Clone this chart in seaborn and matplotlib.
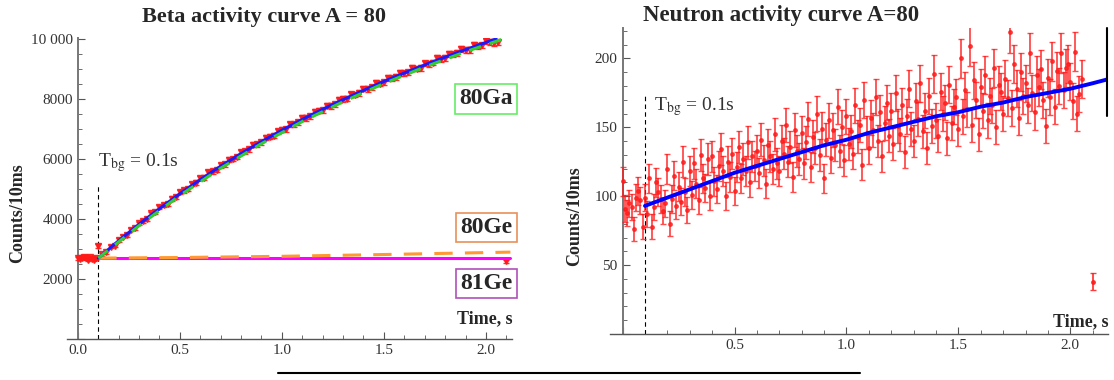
import numpy as np
import pandas as pd
import matplotlib.pyplot as plt
import seaborn as sns
from matplotlib.lines import Line2D
from matplotlib.ticker import MultipleLocator, FuncFormatter

# ---- beta activity data (counts / 10 ms) ----
beta_bg_t = [0.0, 0.01, 0.02, 0.03, 0.04, 0.05, 0.06, 0.07, 0.08, 0.09]
beta_bg = [2700, 2680, 2720, 2750, 2690, 2650, 2730, 2680, 2640, 2700]
beta_jump_t = [0.10, 2.10]
beta_jump = [3100, 2600]
beta_counts = [2830, 2900, 3080, 3120, 3300, 3420, 3480, 3650, 3700, 3860,
               3950, 4010, 4190, 4230, 4400, 4470, 4520, 4690, 4730, 4920,
               4960, 5010, 5180, 5220, 5370, 5390, 5560, 5600, 5650, 5800,
               5830, 5990, 6010, 6080, 6240, 6260, 6330, 6480, 6500, 6570,
               6720, 6750, 6790, 6940, 6990, 7010, 7170, 7170, 7230, 7390,
               7380, 7440, 7590, 7620, 7640, 7790, 7780, 7840, 7980, 8010,
               8020, 8170, 8160, 8210, 8360, 8350, 8400, 8540, 8530, 8570,
               8720, 8700, 8740, 8890, 8870, 8900, 9060, 9030, 9050, 9200,
               9190, 9230, 9370, 9340, 9380, 9520, 9500, 9540, 9670, 9640,
               9660, 9830, 9790, 9800, 9950, 9930, 9870, 9900]
beta_t = np.round(0.12 + 0.02 * np.arange(len(beta_counts)), 2)

# fitted components
fit_t = [0.1, 0.2, 0.3, 0.4, 0.5, 0.6, 0.7, 0.8, 0.9, 1.0, 1.1,
         1.2, 1.3, 1.4, 1.5, 1.6, 1.7, 1.8, 1.9, 2.0, 2.05]
fit_total = [2700, 3280, 3830, 4350, 4850, 5320, 5770, 6190, 6590, 6970, 7330,
             7670, 7990, 8300, 8600, 8880, 9150, 9410, 9660, 9900, 10020]
ga80_t = [0.1, 0.3, 0.5, 0.7, 0.9, 1.1, 1.3, 1.5, 1.7, 1.9, 2.12]
ga80 = [2700, 3780, 4790, 5700, 6520, 7260, 7920, 8530, 9080, 9590, 10100]
ge80_t = [0.1, 0.5, 1.0, 1.5, 2.12]
ge80 = [2700, 2720, 2760, 2820, 2900]
ge81_t = [0.1, 2.12]
ge81 = [2700, 2700]

# ---- neutron activity data ----
neutron_counts = [111, 91, 88, 95, 92, 76, 99, 104, 97, 78,
                  99, 87, 113, 78, 92, 110, 103, 98, 89, 95,
                  120, 80, 98, 115, 93, 107, 96, 125, 103, 90,
                  118, 101, 124, 109, 97, 130, 113, 106, 127, 100,
                  129, 111, 105, 122, 134, 118, 100, 125, 114, 131,
                  104, 121, 136, 113, 127, 118, 139, 110, 129, 122,
                  133, 117, 141, 126, 109, 137, 129, 120, 145, 124,
                  118, 140, 131, 152, 125, 136, 114, 148, 133, 127,
                  146, 124, 139, 156, 121, 143, 135, 160, 130, 149,
                  113, 141, 155, 128, 148, 137, 165, 133, 150, 126,
                  158, 138, 147, 131, 166, 143, 152, 123, 170, 146,
                  135, 157, 148, 172, 140, 161, 129, 153, 168, 144,
                  162, 138, 175, 151, 145, 166, 132, 158, 178, 149,
                  140, 169, 156, 182, 147, 162, 135, 173, 151, 189,
                  155, 144, 176, 160, 168, 142, 181, 153, 165, 172,
                  149, 200, 158, 177, 163, 209, 152, 184, 170, 145,
                  179, 162, 188, 155, 173, 166, 193, 150, 181, 176,
                  160, 185, 171, 219, 164, 196, 178, 157, 190, 173,
                  182, 166, 204, 175, 161, 188, 179, 192, 170, 151,
                  186, 172, 198, 165, 191, 180, 204, 177, 193, 196,
                  183, 169, 205, 160, 174, 185]
neutron_t = np.round(0.01 * np.arange(len(neutron_counts)), 2)
neutron_out_t = [2.10]
neutron_out = [38]
nfit_t = [0.1, 0.2, 0.3, 0.4, 0.5, 0.6, 0.7, 0.8, 0.9, 1.0, 1.1,
          1.2, 1.3, 1.4, 1.5, 1.6, 1.7, 1.8, 1.9, 2.0, 2.1, 2.17]
nfit = [93, 99, 105, 111, 117, 122, 127, 132, 137, 141, 146,
        150, 154, 158, 161, 165, 168, 172, 175, 178, 182, 185]

sns.set_theme(style="white")
plt.rcParams['font.family'] = ['Liberation Serif', 'DejaVu Serif']
plt.rcParams['mathtext.fontset'] = 'stix'

fig = plt.figure(figsize=(11.14, 3.80), dpi=100)
ax1 = fig.add_axes([0.060, 0.108, 0.400, 0.792])
ax2 = fig.add_axes([0.548, 0.121, 0.447, 0.805])

red = '#ff1a1a'


def style_axis(ax):
    for s in ['top', 'right']:
        ax.spines[s].set_visible(False)
    ax.spines['left'].set_position(('data', 0))
    ax.spines['left'].set_color('#777777')
    ax.spines['bottom'].set_color('#555555')
    ax.spines['left'].set_linewidth(1.4)
    ax.spines['bottom'].set_linewidth(1.0)
    ax.tick_params(which='both', direction='in', colors='#555555',
                   labelcolor='#333333', labelsize=11, bottom=True, left=True)
    ax.tick_params(which='major', length=5, width=0.8)
    ax.tick_params(which='minor', length=3, width=0.6)
    ax.xaxis.set_major_locator(MultipleLocator(0.5))
    ax.xaxis.set_minor_locator(MultipleLocator(0.1))


# ---- left panel ----
ax = ax1
style_axis(ax)
eb_kw = dict(fmt='v', color=red, ms=4, capsize=2.5, elinewidth=1.4, alpha=0.9, zorder=3)
ax.errorbar(beta_bg_t, beta_bg, yerr=np.sqrt(beta_bg), **eb_kw)
ax.errorbar(beta_t, beta_counts, yerr=np.sqrt(beta_counts), **eb_kw)
ax.errorbar(beta_jump_t, beta_jump, yerr=np.sqrt(beta_jump), **eb_kw)
sns.lineplot(x=ge81_t, y=ge81, ax=ax, color='#ff00ff', lw=2.2, zorder=4)
sns.lineplot(x=ge80_t, y=ge80, ax=ax, color='#ff9933', lw=2.2, zorder=4).lines[-1].set_dashes([6, 4])
sns.lineplot(x=fit_t, y=fit_total, ax=ax, color='#1a1aff', lw=2.2, zorder=5)
sns.lineplot(x=ga80_t, y=ga80, ax=ax, color='#33cc33', lw=2.2, zorder=6).lines[-1].set_dashes([4, 3])
ax.plot([0.1, 0.1], [0, 5100], color='black', lw=0.8, ls=(0, (4, 3)))
ax.set_xlim(-0.054, 2.13)
ax.set_ylim(0, 10050)
ax.yaxis.set_major_locator(MultipleLocator(2000))
ax.yaxis.set_minor_locator(MultipleLocator(500))
ax.yaxis.set_major_formatter(FuncFormatter(
    lambda v, p: '' if v == 0 else ('10 000' if v == 10000 else f'{int(v)}')))
ax.xaxis.set_major_formatter(FuncFormatter(lambda v, p: f'{v:.1f}'))
ax.set_xlabel('')
ax.set_ylabel('')
ax.text(0.097, 5750, r'T$_{\rm bg}$ = 0.1s', fontsize=14, color='#333333')
box_kw = dict(boxstyle='square,pad=0.18', facecolor='white', lw=1.2)
ax.text(2.13, 8020, '80Ga', ha='right', va='center', fontsize=17, fontweight='bold',
        bbox=dict(edgecolor='#66ee66', **box_kw))
ax.text(2.13, 3720, '80Ge', ha='right', va='center', fontsize=17, fontweight='bold',
        bbox=dict(edgecolor='#e8905a', **box_kw))
ax.text(2.13, 1850, '81Ge', ha='right', va='center', fontsize=17, fontweight='bold',
        bbox=dict(edgecolor='#b050b8', **box_kw))
ax.text(2.13, 380, 'Time, s', ha='right', va='bottom', fontsize=13, fontweight='bold')
fig.text(0.237, 0.955, 'Beta activity curve A = 80', ha='center', va='center',
         fontsize=16, fontweight='bold')
fig.text(0.016, 0.44, 'Counts/10ms', rotation=90, ha='center', va='center',
         fontsize=13, fontweight='bold')

# ---- right panel ----
ax = ax2
style_axis(ax)
ax.errorbar(neutron_t, neutron_counts, yerr=np.sqrt(neutron_counts), fmt='o',
            color=red, ms=2.5, capsize=2.5, elinewidth=1.3, alpha=0.78, zorder=3)
ax.errorbar(neutron_out_t, neutron_out, yerr=np.sqrt(neutron_out), fmt='o',
            color=red, ms=2.5, capsize=2.5, elinewidth=1.3, alpha=0.85, zorder=3)
sns.lineplot(x=nfit_t, y=nfit, ax=ax, color='#0000ff', lw=2.8, zorder=5)
ax.plot([0.1, 0.1], [0, 173], color='black', lw=0.8, ls=(0, (4, 3)))
ax.set_xlim(-0.054, 2.17)
ax.set_ylim(0, 222)
ax.yaxis.set_major_locator(MultipleLocator(50))
ax.yaxis.set_minor_locator(MultipleLocator(10))
ax.yaxis.set_major_formatter(FuncFormatter(lambda v, p: '' if v == 0 else f'{int(v)}'))
ax.xaxis.set_major_formatter(FuncFormatter(lambda v, p: '' if v == 0 else f'{v:.1f}'))
ax.set_xlabel('')
ax.set_ylabel('')
ax.text(0.14, 162, r'T$_{\rm bg}$ = 0.1s', fontsize=14, color='#333333')
ax.text(2.17, 3, 'Time, s', ha='right', va='bottom', fontsize=13, fontweight='bold')
fig.text(0.701, 0.958, 'Neutron activity curve A=80', ha='center', va='center',
         fontsize=16.5, fontweight='bold')
fig.text(0.516, 0.43, 'Counts/10ms', rotation=90, ha='center', va='center',
         fontsize=13, fontweight='bold')

# stray frame lines of the original figure
fig.add_artist(Line2D([278 / 1114, 860 / 1114], [1 - 373 / 380, 1 - 373 / 380],
                      color='black', lw=1.5))
fig.add_artist(Line2D([1107 / 1114, 1107 / 1114], [1 - 28 / 380, 1 - 116 / 380],
                      color='black', lw=1.5))

fig.savefig('out.png', dpi=100)
